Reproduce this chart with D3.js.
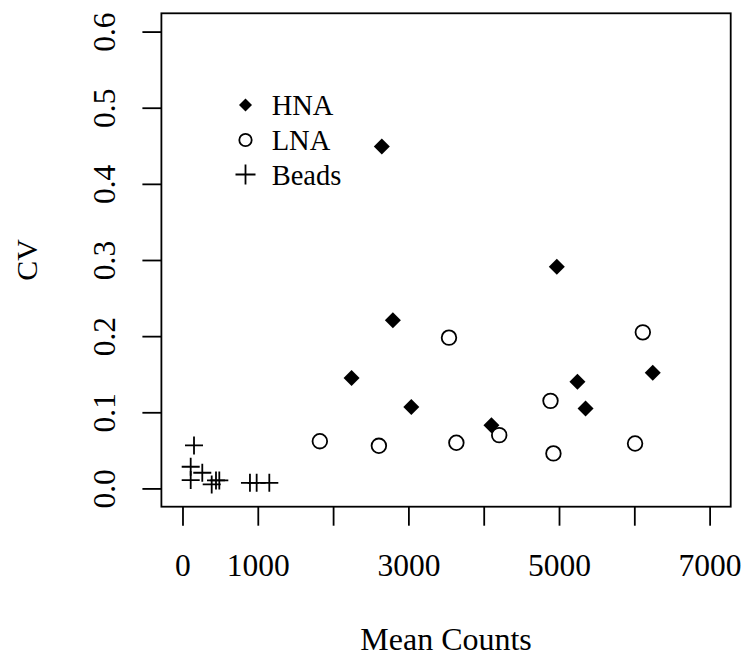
<!DOCTYPE html>
<html>
<head>
<meta charset="utf-8">
<script src="https://cdn.jsdelivr.net/npm/d3@7"></script>
<style>
  body { margin: 0; background: #fff; }
  text { font-family: "Liberation Serif", "Times New Roman", serif; fill: #000; }
</style>
</head>
<body>
<script>
// mean counts (x) and CV (y)
const hnaX = [2647, 4971, 2794, 2245, 3039, 5245, 5353, 6245, 4103];
const hnaY = [0.449, 0.291, 0.221, 0.145, 0.107, 0.140, 0.105, 0.152, 0.083];

const lnaX = [3539, 6113, 4887, 1824, 2608, 3637, 4206, 4926, 6010];
const lnaY = [0.198, 0.205, 0.115, 0.062, 0.056, 0.060, 0.070, 0.046, 0.059];

const beadsX = [153, 109, 109, 263, 388, 445, 489, 896, 985, 1153];
const beadsY = [0.0565, 0.0285, 0.011, 0.0206, 0.0052, 0.0105, 0.0105, 0.0074, 0.0074, 0.0074];

const xTicks = [0, 1000, 2000, 3000, 4000, 5000, 6000, 7000];
const xTickLabels = ["0", "1000", "", "3000", "", "5000", "", "7000"];
const yTicks = [0, 0.1, 0.2, 0.3, 0.4, 0.5, 0.6];
const yTickLabels = ["0.0", "0.1", "0.2", "0.3", "0.4", "0.5", "0.6"];

const legendLabels = ["HNA", "LNA", "Beads"];

const width = 744;
const height = 657;
const margin = { top: 13.3, right: 744 - 730.7, bottom: 657 - 506.7, left: 161.4 };

const svg = d3
    .select("body")
    .append("svg")
    .attr("width", width)
    .attr("height", height);

// R style 4% padding around xlim = c(0, 7000), ylim = c(0, 0.6)
const x = d3.scaleLinear()
    .domain([-280, 7280])
    .range([margin.left, width - margin.right]);

const y = d3.scaleLinear()
    .domain([-0.024, 0.624])
    .range([height - margin.bottom, margin.top]);

const lw = 1.8;

// x axis
const xAxis = svg.append("g")
    .attr("transform", `translate(0,${height - margin.bottom})`)
    .call(d3.axisBottom(x)
        .tickValues(xTicks)
        .tickSize(19)
        .tickSizeOuter(0)
        .tickFormat((d, i) => xTickLabels[i]));
xAxis.select(".domain").remove();
xAxis.selectAll(".tick line").attr("stroke", "#000").attr("stroke-width", lw);
xAxis.selectAll(".tick text")
    .attr("y", 69.3)
    .attr("dy", 0)
    .style("font-size", "31.5px")
    .style("font-family", "Liberation Serif");

// y axis
const yAxis = svg.append("g")
    .attr("transform", `translate(${margin.left},0)`)
    .call(d3.axisLeft(y)
        .tickValues(yTicks)
        .tickSize(19)
        .tickSizeOuter(0)
        .tickFormat((d, i) => yTickLabels[i]));
yAxis.select(".domain").remove();
yAxis.selectAll(".tick line").attr("stroke", "#000").attr("stroke-width", lw);
yAxis.selectAll(".tick text")
    .attr("x", null)
    .attr("dy", 0)
    .attr("transform", "translate(-46.4,0) rotate(-90)")
    .attr("text-anchor", "middle")
    .style("font-size", "31.5px")
    .style("font-family", "Liberation Serif");

// box round the plot
svg.append("rect")
    .attr("x", margin.left)
    .attr("y", margin.top)
    .attr("width", width - margin.left - margin.right)
    .attr("height", height - margin.top - margin.bottom)
    .attr("fill", "none")
    .attr("stroke", "#000")
    .attr("stroke-width", lw);

// axis titles
svg.append("text")
    .attr("x", (margin.left + width - margin.right) / 2)
    .attr("y", 650)
    .attr("text-anchor", "middle")
    .style("font-size", "32px")
    .text("Mean Counts");

svg.append("text")
    .attr("transform", `translate(37.3,${(margin.top + height - margin.bottom) / 2}) rotate(-90)`)
    .attr("text-anchor", "middle")
    .style("font-size", "30px")
    .text("CV");

// symbol helpers
function diamond(g, cx, cy, r) {
    g.append("path")
        .attr("d", `M${cx},${cy - r}L${cx + r},${cy}L${cx},${cy + r}L${cx - r},${cy}Z`)
        .attr("fill", "#000");
}
function circle(g, cx, cy, r) {
    g.append("circle")
        .attr("cx", cx).attr("cy", cy).attr("r", r)
        .attr("fill", "none").attr("stroke", "#000").attr("stroke-width", lw);
}
function plus(g, cx, cy, r) {
    g.append("path")
        .attr("d", `M${cx - r},${cy}H${cx + r}M${cx},${cy - r}V${cy + r}`)
        .attr("stroke", "#000").attr("stroke-width", lw).attr("fill", "none");
}

const pts = svg.append("g");
hnaX.forEach((d, i) => diamond(pts, x(d), y(hnaY[i]), 8));
lnaX.forEach((d, i) => circle(pts, x(d), y(lnaY[i]), 7.3));
beadsX.forEach((d, i) => plus(pts, x(d), y(beadsY[i]), 9));

// legend
const legend = svg.append("g");
const legX = 245.5;
const legY = [105, 140, 174.5];
const legSym = [
    (g, cx, cy) => diamond(g, cx, cy, 6.5),
    (g, cx, cy) => circle(g, cx, cy, 6.2),
    (g, cx, cy) => plus(g, cx, cy, 10)
];
legendLabels.forEach((lab, i) => {
    legSym[i](legend, legX, legY[i]);
    legend.append("text")
        .attr("x", 271.7)
        .attr("y", legY[i] + 10)
        .style("font-size", "28.5px")
        .text(lab);
});
</script>
</body>
</html>
